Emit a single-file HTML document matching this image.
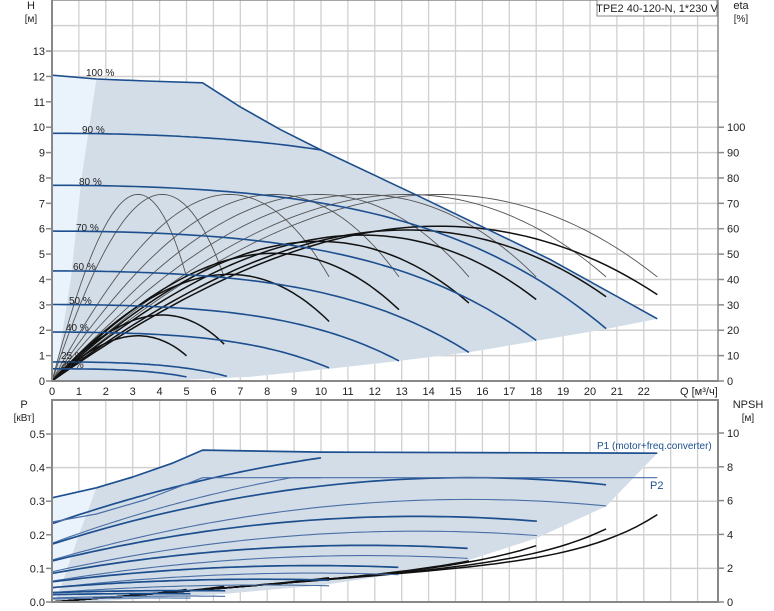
<!DOCTYPE html>
<html><head><meta charset="utf-8">
<style>
html,body{margin:0;padding:0;background:#fff;}
svg{display:block;font-family:"Liberation Sans",sans-serif;}
</style></head>
<body>
<svg id="s" width="774" height="611" viewBox="0 0 774 611" xmlns="http://www.w3.org/2000/svg"></svg>
<script>
var S=document.getElementById('s');var out='';
function X(q){return 52+q*26.9;}
function YH(h){return 381-h*25.38;}
function YP(p){return 602-p*336;}
function pts(arr,fy){return arr.map(function(p){return X(p[0]).toFixed(1)+','+fy(p[1]).toFixed(1);}).join(' ');}
function poly(arr,fy,fill){out+='<polygon points="'+pts(arr,fy)+'" fill="'+fill+'"/>';}
function line(arr,fy,col,w){out+='<polyline points="'+pts(arr,fy)+'" fill="none" stroke="'+col+'" stroke-width="'+w+'" stroke-linejoin="round"/>';}
function txt(x,y,t,sz,anc,col){out+='<text x="'+x+'" y="'+y+'" font-size="'+(sz||11)+'" text-anchor="'+(anc||'start')+'" fill="'+(col||'#222')+'">'+t+'</text>';}
function sample(f,a,b,n){var r=[];n=n||60;for(var i=0;i<=n;i++){var q=a+(b-a)*i/n;r.push([q,f(q)]);}return r;}
function interp(P,q){for(var i=0;i<P.length-1;i++){if(q>=P[i][0]&&q<=P[i+1][0]){var t=(q-P[i][0])/(P[i+1][0]-P[i][0]);return P[i][1]+t*(P[i+1][1]-P[i][1]);}}return q<P[0][0]?1e9:P[P.length-1][1];}
// ---- grids
var g='#d0d0d0';
for(var q=1;q<=24;q++){out+='<line x1="'+X(q)+'" y1="0" x2="'+X(q)+'" y2="381" stroke="'+g+'" stroke-width="1.3"/>';out+='<line x1="'+X(q)+'" y1="400" x2="'+X(q)+'" y2="602" stroke="'+g+'" stroke-width="1.3"/>';}
for(var h=1;h<=14;h++){out+='<line x1="52" y1="'+YH(h)+'" x2="718" y2="'+YH(h)+'" stroke="'+g+'" stroke-width="1.5"/>';}
for(var p=1;p<=5;p++){out+='<line x1="52" y1="'+YP(p/10)+'" x2="718" y2="'+YP(p/10)+'" stroke="'+g+'" stroke-width="1.5"/>';}
// ---- top regions
var maxH=[[5.6,11.75],[7,10.8],[8.5,9.9],[10,9.1],[13.4,7.4],[18.5,4.8],[22.5,2.45]];
var top100=[[0,12.05],[1.65,11.9],[3.5,11.82],[5.6,11.75]];
var bot=[[22.5,2.45],[20.6,2.05],[18,1.58],[15.5,1.13],[12.9,0.79],[10.3,0.48],[7.4,0.17],[5,0.05],[2,0.0],[0.05,0]];
poly([[0,0],[0,12.05]].concat(top100.slice(1)).concat(maxH.slice(1)).concat(bot),YH,'#eaf3fc');
poly(top100.slice(1).concat(maxH.slice(1)).concat(bot).concat([[0.25,1],[0.7,4],[1.1,8]]),YH,'#d3dde8');
// ---- eta curves
function f(x){return (200.5*x-88.17*x*x-71.3*x*x*x)/73.5;}
var ends=[5,6.4,10.3,12.9,15.5,18,20.6,22.5],peaks=[17.8,26,42,50.3,55,57.5,59.5,61];
ends.forEach(function(e){line(sample(function(q){return 7.35*f(q/e);},0,e),YH,'#555',0.9);});
ends.forEach(function(e,i){line(sample(function(q){return peaks[i]/10*f(q/e);},0,e),YH,'#111',1.5);});
// ---- speed curves
var sp=[[0.9,10],[0.8,20.6],[0.7,18],[0.6,15.5],[0.5,12.9],[0.4,10.3],[0.25,6.5],[0.2,5]];
var blue='#1d4f8e';
sp.forEach(function(a){var s=a[0];line(sample(function(q){var h=12.05*s*s-0.00503*q*q-1.249e-5*Math.pow(q,4)/(s*s);return Math.min(h,interp(maxH,q));},0,a[1]),YH,blue,1.6);});
line(top100.concat(maxH.slice(1)),YH,blue,1.6);
// labels
[['100 %',86,76],['90 %',82,133],['80 %',79,185],['70 %',76,231],['60 %',73,270],['50 %',69,304],['40 %',66,331],['25 %',61,359],['20 %',61,368]].forEach(function(l){txt(l[1],l[2],l[0],10,'start','#222');});
// ---- bottom regions
var pmax=[[5.6,0.452],[10,0.446],[22.5,0.443]];
var p100=[[0,0.31],[1.65,0.34],[3,0.372],[4.5,0.414],[5.6,0.452]];
var pbot=[[22.5,0.443],[20.6,0.285],[18,0.19],[15.5,0.125],[13,0.085],[10,0.05],[6.5,0.025],[3,0.008],[1,0],[0.1,0]];
poly([[0,0]].concat(p100).concat(pmax.slice(1)).concat(pbot),YP,'#eaf3fc');
poly(p100.slice(1).concat(pmax.slice(1)).concat(pbot).concat([[0.4,0.06],[1.0,0.2]]),YP,'#d3dde8');
// NPSH
function base(q){return 0.13*q+2.3*Math.pow(q/22.5,9);}
var ne={22.5:5.2,20.6:4.35,18:3.35,15.5:2.45};
ends.forEach(function(e){var N=ne[e]||base(e)+0.1;line(sample(function(q){return (base(q)+(N-base(e))*Math.pow(q/e,6))*0.05;},0,e),YP,'#111',1.5);});
// P curves
var P1=[[0.9,0.233],[0.8,0.172],[0.7,0.122],[0.6,0.085],[0.5,0.06],[0.4,0.043],[0.25,0.028],[0.2,0.022]];
var P2=[[0.9,0.175],[0.8,0.125],[0.7,0.09],[0.6,0.062],[0.5,0.042],[0.4,0.028],[0.25,0.012],[0.2,0.009]];
P2.forEach(function(a){var s=a[0],e=Math.min(25.75*s,22.5),qp=19.4*s,R=0.352*s*s*s;if(s==0.9)e=10;
 line(sample(function(q){var x=1-q/qp;return Math.min(a[1]+R*(1-x*x),0.37);},0,e),YP,'#4a6fa5',1.1);});
P1.forEach(function(a){var s=a[0],e=Math.min(25.75*s,22.5),qp=19.4*s,R=0.387*s*s*s;if(s==0.9){e=10;R=0.24;}
 line(sample(function(q){var x=1-q/qp;return Math.min(a[1]+R*(1-x*x),0.445);},0,e),YP,blue,1.7);});
line([[0,0.238],[1.65,0.262],[3.5,0.305],[5.6,0.37],[22.5,0.37]],YP,'#4a6fa5',1.2);
line(p100.concat(pmax.slice(1)),YP,blue,1.7);
txt(597,449,'P1 (motor+freq.converter)',10,'start','#1d4f8e');
txt(650,489,'P2',11,'start','#1d4f8e');
// ---- axes
out+='<line x1="52" y1="0" x2="52" y2="382" stroke="#888" stroke-width="2"/>';
out+='<line x1="51" y1="381" x2="718" y2="381" stroke="#888" stroke-width="2"/>';
out+='<line x1="718" y1="0" x2="718" y2="382" stroke="#888" stroke-width="1.5"/>';
out+='<line x1="51" y1="0" x2="718" y2="0" stroke="#888" stroke-width="1.5"/>';
out+='<rect x="52" y="400" width="666" height="202" fill="none" stroke="#888" stroke-width="2"/>';
for(var h=0;h<=13;h++){out+='<line x1="46" y1="'+YH(h)+'" x2="52" y2="'+YH(h)+'" stroke="#888" stroke-width="1.5"/>';txt(45,YH(h)+4,h,11,'end');}
for(var e=0;e<=100;e+=10){var y=YH(e/10);out+='<line x1="718" y1="'+y+'" x2="724" y2="'+y+'" stroke="#888" stroke-width="1.5"/>';txt(727,y+4,e,11,'start');}
for(var q=0;q<=22;q++){txt(X(q),395,q,11,'middle');}
txt(680,395,'Q [м³/ч]',11,'start');
for(var p=0;p<=5;p++){var y=YP(p/10);out+='<line x1="46" y1="'+y+'" x2="52" y2="'+y+'" stroke="#888" stroke-width="1.5"/>';txt(45,y+4,(p/10).toFixed(1),11,'end');}
for(var n=0;n<=10;n+=2){var y=602-n*16.9;out+='<line x1="718" y1="'+y+'" x2="724" y2="'+y+'" stroke="#888" stroke-width="1.5"/>';txt(727,y+4,n,11,'start');}
txt(31,9,'H',11,'middle');txt(31,22,'[м]',10,'middle');
txt(741,9,'eta',11,'middle');txt(741,22,'[%]',10,'middle');
txt(24,408,'P',11,'middle');txt(24,421,'[кВт]',10,'middle');
txt(748,408,'NPSH',11,'middle');txt(748,421,'[м]',10,'middle');
out+='<rect x="597" y="0" width="120" height="16" fill="#fff" stroke="#888" stroke-width="1"/>';
txt(657,12,'TPE2 40-120-N, 1*230 V',11,'middle');
S.innerHTML=out;
</script>
</body></html>
